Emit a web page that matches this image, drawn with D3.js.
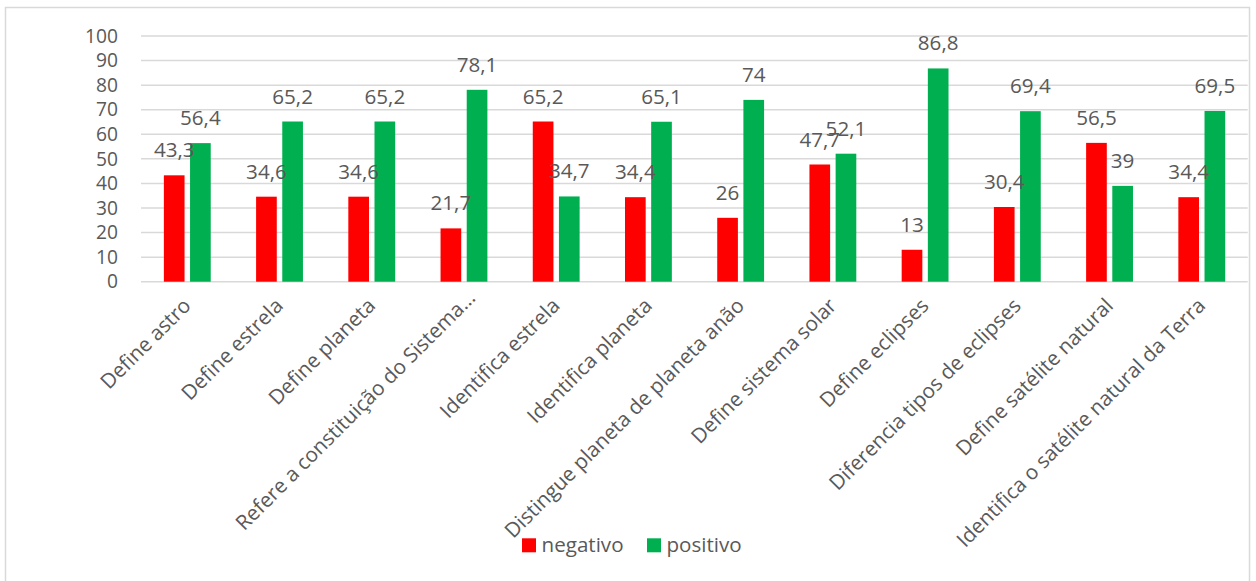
<!DOCTYPE html>
<html>
<head>
<meta charset="utf-8">
<script src="https://cdn.jsdelivr.net/npm/d3@7"></script>
<style>
  html, body { margin: 0; padding: 0; background: #fff; }
  svg { display: block; }
  text { font-family: "Open Sans", "Liberation Sans", sans-serif; fill: #595959; }
</style>
</head>
<body>
<svg id="chart" width="1256" height="581"></svg>
<script>
// Categories (x axis)
const categories = [
  "Define astro",
  "Define estrela",
  "Define planeta",
  "Refere a constituição do Sistema…",
  "Identifica estrela",
  "Identifica planeta",
  "Distingue planeta de planeta anão",
  "Define sistema solar",
  "Define eclipses",
  "Diferencia tipos de eclipses",
  "Define satélite natural",
  "Identifica o satélite natural da Terra"
];

// Series values (%)
const negativo = [43.3, 34.6, 34.6, 21.7, 65.2, 34.4, 26, 47.7, 13, 30.4, 56.5, 34.4];
const positivo = [56.4, 65.2, 65.2, 78.1, 34.7, 65.1, 74, 52.1, 86.8, 69.4, 39, 69.5];

const seriesNames = ["negativo", "positivo"];
const seriesColors = ["#FF0000", "#00B050"];

// Y axis ticks
const yTicks = [0, 10, 20, 30, 40, 50, 60, 70, 80, 90, 100];

const FONT = 20.6;
const TICK_FONT = 19.2;

const svg = d3.select("#chart");

// Chart border
svg.append("rect")
  .attr("x", 5.5).attr("y", 7.5)
  .attr("width", 1244).attr("height", 600)
  .attr("fill", "#fff")
  .attr("stroke", "#d9d9d9")
  .attr("stroke-width", 1.5);

const plot = { left: 141, right: 1247.7, top: 36, bottom: 281.7 };

const x0 = d3.scaleBand()
  .domain(categories)
  .range([plot.left, plot.right])
  .paddingInner(0).paddingOuter(0);

const bw = x0.bandwidth();
const x1 = d3.scaleBand()
  .domain(seriesNames)
  .range([bw * 0.248, bw * 0.756])
  .paddingInner(0.21);

const y = d3.scaleLinear().domain([0, 100]).range([plot.bottom, plot.top]);

// Gridlines
svg.append("g")
  .selectAll("line")
  .data(yTicks)
  .join("line")
  .attr("x1", plot.left).attr("x2", plot.right)
  .attr("y1", d => y(d)).attr("y2", d => y(d))
  .attr("stroke", "#d9d9d9")
  .attr("stroke-width", 1.5);

// Y axis labels
const yAxis = d3.axisLeft(y).tickValues(yTicks).tickSize(0).tickPadding(0)
  .tickFormat(d3.format("d"));
const gy = svg.append("g")
  .attr("transform", "translate(118,0)")
  .call(yAxis);
gy.select(".domain").remove();
gy.selectAll("text")
  .attr("font-size", TICK_FONT)
  .attr("fill", "#595959")
  .style("font-family", '"Open Sans", sans-serif');

// Bars and value labels
const rows = categories.map((c, i) => ({
  cat: c,
  vals: [
    { key: "negativo", v: negativo[i] },
    { key: "positivo", v: positivo[i] }
  ]
}));

const color = d3.scaleOrdinal().domain(seriesNames).range(seriesColors);
const fmt = v => String(v).replace(".", ",");

const groups = svg.append("g")
  .selectAll("g")
  .data(rows)
  .join("g")
  .attr("transform", d => `translate(${x0(d.cat)},0)`);

groups.selectAll("rect")
  .data(d => d.vals)
  .join("rect")
  .attr("x", d => x1(d.key))
  .attr("width", x1.bandwidth())
  .attr("y", d => y(d.v))
  .attr("height", d => y(0) - y(d.v))
  .attr("fill", d => color(d.key));

groups.selectAll("text")
  .data(d => d.vals)
  .join("text")
  .attr("x", d => x1(d.key) + x1.bandwidth() / 2)
  .attr("y", d => y(d.v) - 18)
  .attr("text-anchor", "middle")
  .attr("font-size", FONT)
  .attr("fill", "#404040")
  .text(d => fmt(d.v));

// Category labels (rotated)
svg.append("g")
  .selectAll("text")
  .data(categories)
  .join("text")
  .attr("transform", d => `translate(${x0(d) + bw / 2 + 5},307) rotate(-45)`)
  .attr("dx", d => d.endsWith("…") ? 11 : 0)
  .attr("text-anchor", "end")
  .attr("font-size", FONT)
  .attr("fill", "#595959")
  .text(d => d);

// Legend
const legend = svg.append("g");
const legendX = [522, 647];
seriesNames.forEach((name, i) => {
  legend.append("rect")
    .attr("x", legendX[i]).attr("y", 538.3)
    .attr("width", 14).attr("height", 14)
    .attr("fill", seriesColors[i]);
  legend.append("text")
    .attr("x", legendX[i] + 19.5).attr("y", 551.5)
    .attr("font-size", FONT)
    .attr("fill", "#595959")
    .text(name);
});
</script>
</body>
</html>
